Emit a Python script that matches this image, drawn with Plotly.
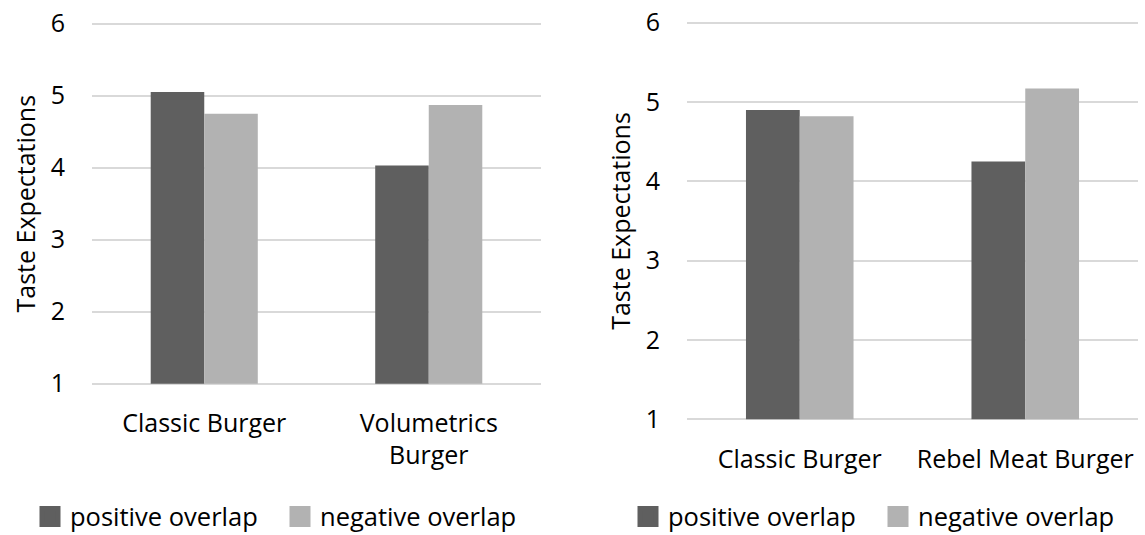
import plotly.graph_objects as go

# ---- data ----
left_categories = ["Classic Burger", "Volumetrics<br>Burger"]
left_positive = [5.05, 4.03]
left_negative = [4.75, 4.87]

right_categories = ["Classic Burger", "Rebel Meat Burger"]
right_positive = [4.90, 4.25]
right_negative = [4.82, 5.17]

series_names = ["positive overlap", "negative overlap"]
y_ticks = [1, 2, 3, 4, 5, 6]
y_title = "Taste Expectations"
y_base = 1

DARK = "#5f5f5f"
LIGHT = "#b2b2b2"
FONT = "Open Sans"
FS = 25
LFS = 25.5
EPS = 0.03


def bar(cats, vals, name, col, xa, ya):
    return go.Bar(x=cats, y=[v - y_base for v in vals], base=y_base, customdata=vals, name=name,
                  marker=dict(color=col, line=dict(width=0)), xaxis=xa, yaxis=ya, showlegend=False,
                  hovertemplate="%{x}: %{customdata}<extra>" + name + "</extra>")


fig = go.Figure()
fig.add_trace(bar(left_categories, left_positive, series_names[0], DARK, "x", "y"))
fig.add_trace(bar(left_categories, left_negative, series_names[1], LIGHT, "x", "y"))
fig.add_trace(bar(right_categories, right_positive, series_names[0], DARK, "x2", "y2"))
fig.add_trace(bar(right_categories, right_negative, series_names[1], LIGHT, "x2", "y2"))

# legend entries (square swatches)
for lg, xa, ya in [("legend", "x", "y"), ("legend2", "x2", "y2")]:
    for name, col in [(series_names[0], DARK), (series_names[1], LIGHT)]:
        fig.add_trace(go.Scatter(x=[None], y=[None], mode="markers", name=name, legend=lg,
                                 marker=dict(symbol="square", size=16, color=col, line=dict(width=5, color=col)),
                                 xaxis=xa, yaxis=ya, hoverinfo="skip"))

yaxis_common = dict(range=[1 - EPS, 6 + EPS], tickvals=y_ticks, showgrid=True, gridcolor="#d9d9d9", gridwidth=2,
                    zeroline=False, showline=False, ticks="", ticklabelstandoff=26,
                    tickfont=dict(family=FONT, size=FS, color="#000"),
                    title=dict(text=y_title, font=dict(family=FONT, size=FS, color="#000"), standoff=7),
                    fixedrange=True)
xaxis_common = dict(showgrid=False, zeroline=False, showline=False, ticks="", ticklabelstandoff=20,
                    tickfont=dict(family=FONT, size=FS, color="#000"), fixedrange=True)

legend_common = dict(orientation="h", yanchor="middle", y=0.034, xanchor="left",
                     entrywidth=205, entrywidthmode="pixels",
                     font=dict(family=FONT, size=LFS, color="#000"), bgcolor="rgba(0,0,0,0)",
                     itemclick=False, itemdoubleclick=False)

L_PX = 72.0
R_PX = 79.3
fig.update_layout(
    width=1145, height=535,
    margin=dict(l=0, r=0, t=0, b=0, autoexpand=False),
    paper_bgcolor="white", plot_bgcolor="white",
    barmode="group", bargap=0.523, bargroupgap=0,
    showlegend=True,
    xaxis=dict(domain=[92 / 1145, 541 / 1145], anchor="y", **xaxis_common),
    yaxis=dict(domain=[1 - (383.7 + EPS * L_PX) / 535, 1 - (23.7 - EPS * L_PX) / 535], anchor="x", **yaxis_common),
    xaxis2=dict(domain=[687 / 1145, 1138 / 1145], anchor="y2", **xaxis_common),
    yaxis2=dict(domain=[1 - (419.3 + EPS * R_PX) / 535, 1 - (22.7 - EPS * R_PX) / 535], anchor="x2", **yaxis_common),
    legend=dict(x=30 / 1145, **legend_common),
    legend2=dict(x=628 / 1145, **legend_common),
)

fig.write_html("out.html")
